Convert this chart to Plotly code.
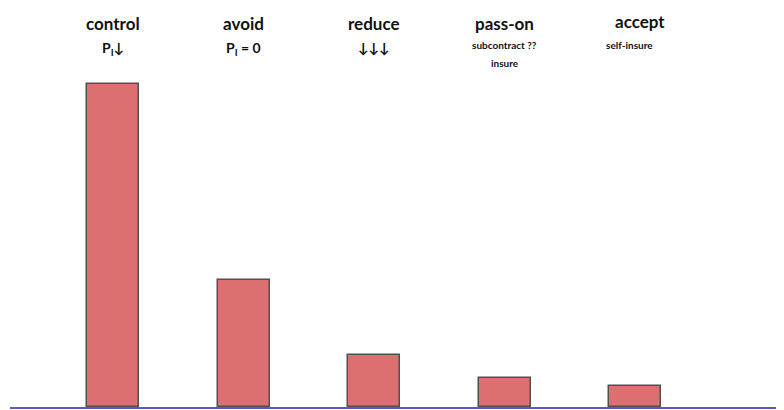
import plotly.graph_objects as go

# Risk-response strategies, relative weight
categories = ["control", "avoid", "reduce", "pass-on", "accept"]
values = [323, 127, 52, 29, 21]
sublabels = [["P<sub>I</sub>\u2193"], ["P<sub>I</sub> = 0"], ["\u2193\u2193\u2193"],
             ["subcontract ??", "insure"], ["self-insure"]]

FONT = "Lato, 'Open Sans', sans-serif"
BAR_FILL = "#DC7070"
BAR_EDGE = "#505050"
AXIS_BLUE = "#5a5ac0"

fig = go.Figure()
fig.add_trace(go.Bar(
    x=list(range(len(categories))), y=values, width=0.4,
    marker=dict(color=BAR_FILL, line=dict(color=BAR_EDGE, width=1.5)),
    hoverinfo="skip", showlegend=False,
))

# Headings above each bar: main word, then smaller notes
head_dx = [0, 0, 0, 0, 5]
sub_dx = [0, 0, 0, 0, -6]
for i, (cat, subs) in enumerate(zip(categories, sublabels)):
    fig.add_annotation(
        x=i, xref="x", y=1, yref="paper", yanchor="top",
        xshift=head_dx[i], yshift=-1 if cat == "accept" else -3,
        text=f"<b>{cat}</b>", showarrow=False,
        font=dict(family=FONT, size=17, color="#111111"),
    )
    small = len(subs) > 1 or "insure" in subs[0]
    for j, sub in enumerate(subs):
        fig.add_annotation(
            x=i, xref="x", y=1, yref="paper", yanchor="top",
            xshift=sub_dx[i], yshift=(-29 - 18 * j) if small else -29,
            text=f"<b>{sub}</b>", showarrow=False,
            font=dict(family=FONT, size=10 if small else 14, color="#111111"),
        )

fig.update_xaxes(range=[-0.79, 5.14], showticklabels=False, showgrid=False,
                 zeroline=False, showline=True, linecolor=AXIS_BLUE, linewidth=2,
                 ticks="", fixedrange=True)
fig.update_yaxes(range=[0, 399], visible=False, showgrid=False, fixedrange=True)
fig.update_layout(
    width=776, height=402,
    margin=dict(l=2, r=0, t=0, b=3),
    paper_bgcolor="white", plot_bgcolor="white",
    bargap=0,
)

fig.write_html("out.html")
